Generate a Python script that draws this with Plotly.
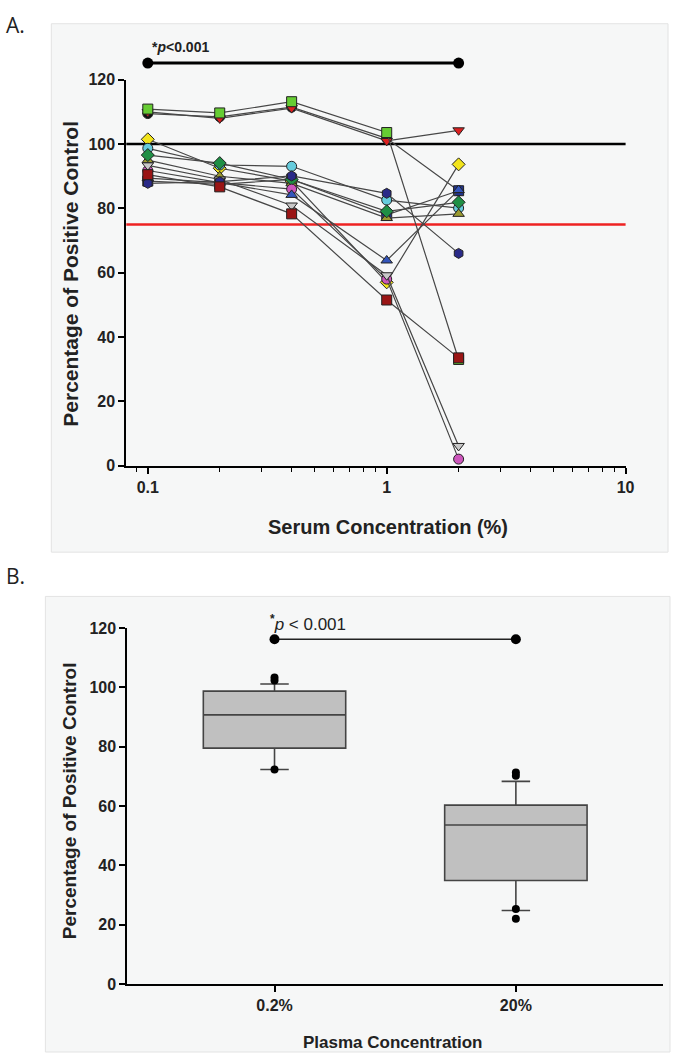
import plotly.graph_objects as go

W, H = 679, 1061

# ---------------- Panel A data ----------------
serum_conc = [0.1, 0.2, 0.4, 1, 2]
series_names = ["S1", "S2", "S3", "S4", "S5", "S6", "S7", "S8", "S9", "S10", "S11", "S12", "S13"]
series_values = [
    [109.5, 108.5, 111.5, 101.8, 85.5],   # black circle
    [110.0, 108.0, 111.2, 101.0, 104.3],  # red down-triangle
    [110.9, 109.7, 113.2, 103.6, 33.0],   # green square
    [88.5, 87.5, 89.0, 78.0, 85.5],       # navy square
    [101.5, 92.5, 88.5, 57.0, 93.7],      # yellow diamond
    [98.7, 93.5, 93.1, 82.6, 80.1],       # cyan circle
    [95.0, 90.0, 87.8, 77.0, 78.3],       # olive triangle
    [96.6, 94.1, 89.0, 79.1, 81.9],       # green diamond
    [91.8, 88.0, 86.0, 58.0, 2.0],        # pink circle
    [93.4, 89.0, 80.9, 59.2, 6.1],        # gray down-triangle
    [89.4, 88.0, 84.2, 63.8, 85.7],       # blue triangle
    [87.8, 88.3, 90.1, 84.7, 66.0],       # navy hexagon
    [90.5, 86.7, 78.3, 51.5, 33.5],       # dark red square
]
series_symbols = ["circle", "triangle-down", "square", "square", "diamond", "circle",
                  "triangle-up", "diamond", "circle", "triangle-down", "triangle-up",
                  "hexagon", "square"]
series_colors = ["#111111", "#dd2020", "#66cc33", "#22338a", "#f2e41c", "#66ccdd",
                 "#9a9a30", "#1f8f45", "#cc55bb", "#c8c8c8", "#3355bb",
                 "#2a2a88", "#9a1515"]
ref_high = 100
ref_low = 75
sig_a_x = [0.1, 2]
sig_a_y = 125.2

# ---------------- Panel B data ----------------
plasma_cats = ["0.2%", "20%"]
box_q1 = [79.5, 34.9]
box_median = [90.7, 53.6]
box_q3 = [98.7, 60.3]
box_low = [72.3, 24.8]
box_high = [101.1, 68.3]
outlier_x = ["0.2%", "0.2%", "0.2%", "20%", "20%", "20%", "20%"]
outlier_y = [103.3, 102.3, 72.3, 71.3, 70.2, 25.3, 22.0]
sig_b_y = 116.2

FONT = "Liberation Sans, Arial, sans-serif"
TXT = "#222222"

fig = go.Figure()

# Panel A traces
for name, vals, sym, col in zip(series_names, series_values, series_symbols, series_colors):
    fig.add_trace(go.Scatter(
        x=serum_conc, y=vals, mode="lines+markers", name=name,
        line=dict(color="#474747", width=1.2),
        marker=dict(symbol=sym, size=10, color=col, line=dict(color="#222222", width=1)),
        xaxis="x", yaxis="y", showlegend=False, cliponaxis=False))

# significance bar for panel A drawn on an extended, invisible axis pair
fig.add_trace(go.Scatter(
    x=sig_a_x, y=[sig_a_y, sig_a_y], mode="lines+markers",
    line=dict(color="#000000", width=3), marker=dict(size=11, color="#000000"),
    xaxis="x3", yaxis="y3", showlegend=False, cliponaxis=False))

# Panel B traces
fig.add_trace(go.Box(
    x=plasma_cats, q1=box_q1, median=box_median, q3=box_q3,
    lowerfence=box_low, upperfence=box_high,
    fillcolor="#c0c0c0", line=dict(color="#444444", width=1.6),
    width=0.59, whiskerwidth=0.2, boxpoints=False,
    xaxis="x2", yaxis="y2", showlegend=False))
fig.add_trace(go.Scatter(
    x=outlier_x, y=outlier_y, mode="markers",
    marker=dict(size=8, color="#000000"),
    xaxis="x2", yaxis="y2", showlegend=False, cliponaxis=False))
fig.add_trace(go.Scatter(
    x=plasma_cats, y=[sig_b_y, sig_b_y], mode="lines+markers",
    line=dict(color="#222222", width=1.5), marker=dict(size=10, color="#000000"),
    xaxis="x2", yaxis="y2", showlegend=False, cliponaxis=False))


def px(x):
    return x / W


def py(y):
    return 1 - y / H


shapes = [
    dict(type="rect", xref="paper", yref="paper", x0=px(52), x1=px(677), y0=py(16), y1=py(553),
         fillcolor="#f6f7f7", line=dict(color="#e3e3e3", width=1), layer="below"),
    dict(type="rect", xref="paper", yref="paper", x0=px(46), x1=px(679), y0=py(598), y1=py(1061),
         fillcolor="#f6f7f7", line=dict(color="#e3e3e3", width=1), layer="below"),
    dict(type="line", xref="x domain", yref="y", x0=0, x1=1, y0=ref_high, y1=ref_high,
         line=dict(color="#000000", width=2.5), layer="below"),
    dict(type="line", xref="x domain", yref="y", x0=0, x1=1, y0=ref_low, y1=ref_low,
         line=dict(color="#ee2222", width=2.5), layer="below"),
]

minor_vals = [0.09, 0.2, 0.3, 0.4, 0.5, 0.6, 0.7, 0.8, 0.9, 2, 3, 4, 5, 6, 7, 8, 9]

tickfont = dict(family=FONT, size=16, color=TXT, weight="bold")
axis_common = dict(showline=True, linecolor="#000000", linewidth=2, showgrid=False,
                   zeroline=False, ticks="outside", tickcolor="#000000", tickwidth=1.5,
                   tickfont=tickfont)


def ann(text, x, y, size, angle=0, bold=True, xanchor="center"):
    return dict(text=text, x=px(x), y=py(y), xref="paper", yref="paper", showarrow=False,
                textangle=angle, xanchor=xanchor, yanchor="middle",
                font=dict(family=FONT, size=size, color=TXT, weight="bold" if bold else "normal"))


annotations = [
    dict(text="A.", x=px(4), y=py(17), xref="paper", yref="paper", showarrow=False,
         xanchor="left", yanchor="middle", font=dict(family="Open Sans, Liberation Sans", size=21, color=TXT)),
    dict(text="B.", x=px(4), y=py(577), xref="paper", yref="paper", showarrow=False,
         xanchor="left", yanchor="middle", font=dict(family="Open Sans, Liberation Sans", size=21, color=TXT)),
    ann("Percentage of Positive Control", 72, 270, 21, angle=-90),
    ann("Serum Concentration (%)", 393, 527, 20),
    ann("*<i>p</i><0.001", 152, 40, 14, xanchor="left"),
    ann("Percentage of Positive Control", 70, 806, 19, angle=-90),
    ann("Plasma Concentration", 398, 1051, 17),
    ann("<b><sup>*</sup></b><i>p</i> < 0.001", 272, 625, 17, bold=False, xanchor="left"),
]

# extended invisible axis for panel A significance bar (same px/unit as yaxis)
a_bottom, a_top, ext_top = 465, 73, 20
ext_range = 120 * (a_bottom - ext_top) / (a_bottom - a_top)

fig.update_layout(
    width=W, height=H, margin=dict(l=0, r=0, t=0, b=0),
    paper_bgcolor="#ffffff", plot_bgcolor="rgba(0,0,0,0)",
    xaxis=dict(type="log", domain=[px(128), px(634)], range=[-1.09, 1.0], anchor="y",
               tickvals=[0.1, 1, 10], ticktext=["0.1", "1", "10"], ticklen=6,
               minor=dict(tickvals=minor_vals, ticklen=4, ticks="outside", tickcolor="#000", tickwidth=1),
               **axis_common),
    yaxis=dict(domain=[py(a_bottom), py(a_top)], range=[0, 120], anchor="x",
               tickvals=[0, 20, 40, 60, 80, 100, 120], ticklen=6, **axis_common),
    xaxis3=dict(type="log", domain=[px(128), px(634)], range=[-1.09, 1.0], anchor="y3", visible=False),
    yaxis3=dict(domain=[py(a_bottom), py(ext_top)], range=[0, ext_range], anchor="x3", visible=False),
    xaxis2=dict(type="category", domain=[px(129), px(672)], range=[-0.61, 1.61], anchor="y2",
                ticklen=6, **axis_common),
    yaxis2=dict(domain=[py(992), py(630)], range=[0, 120], anchor="x2",
                tickvals=[0, 20, 40, 60, 80, 100, 120], ticklen=6, **axis_common),
    shapes=shapes, annotations=annotations,
)

fig.write_html("out.html", config={"displayModeBar": False},
               post_script="document.body.style.margin='0';document.body.style.overflow='hidden';")
